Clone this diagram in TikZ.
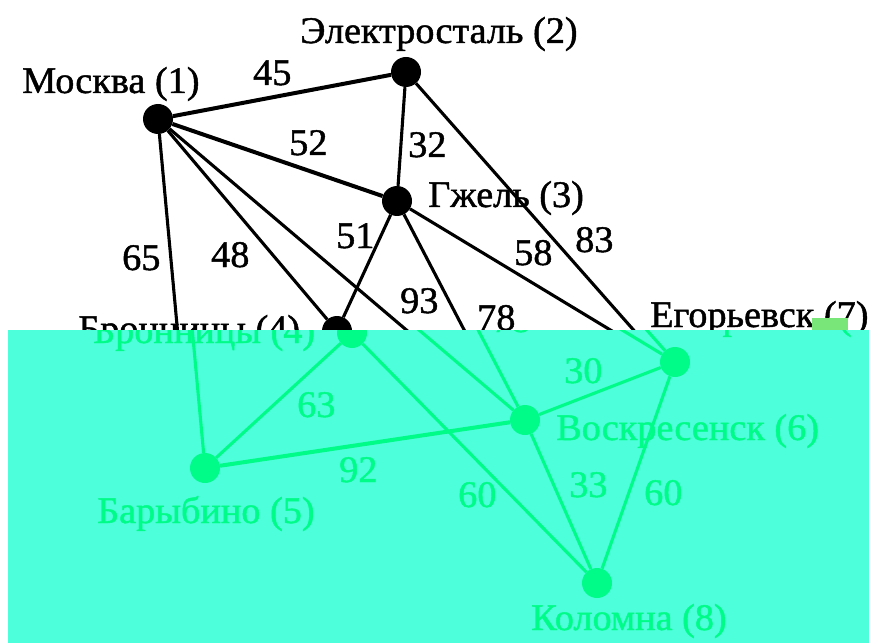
\documentclass[tikz,border=0pt]{standalone}
\usepackage{fontspec}
\setmainfont{Liberation Serif}[FakeBold=1.2]
\definecolor{ovcol}{RGB}{78,255,219}
\definecolor{gr}{RGB}{0,252,136}
\definecolor{glitch}{RGB}{120,230,120}
\tikzset{
  dot/.style={circle,fill=#1,inner sep=0pt,minimum size=30pt},
  edge/.style={draw=#1,line width=3.1pt},
  thickedge/.style={draw=#1,line width=4pt},
  lbl/.style={inner sep=0pt,anchor=base west,text=#1,font=\fontsize{37.5}{42}\selectfont},
}
\newcommand\sx[1]{\scalebox{1.02}[1]{#1}}
\newcommand\graphlayer[1]{%
  \node[dot=#1] (n1) at (158,-119) {};
  \node[dot=#1] (n2) at (406,-72) {};
  \node[dot=#1] (n3) at (397,-201) {};
  \node[dot=#1] (n4) at (337,-331) {};
  \node[dot=#1] (n5) at (190,-466) {};
  \node[dot=#1] (n6) at (510,-418) {};
  \node[dot=#1] (n7) at (660,-360) {};
  \node[dot=#1] (n8) at (582,-581) {};
  \draw[thickedge=#1] (n1) -- (n2);
  \draw[thickedge=#1] (n1) -- (n3);
  \draw[edge=#1] (n2) -- (n3);
  \draw[edge=#1] (n2) -- (n7);
  \draw[edge=#1] (n3) -- (n7);
  \draw[edge=#1] (n1) -- (n4);
  \draw[edge=#1] (n1) -- (n5);
  \draw[edge=#1] (n1) -- (n6);
  \draw[edge=#1] (n3) -- (n4);
  \draw[edge=#1] (n3) -- (n6);
  \draw[edge=#1] (n4) -- (n5);
  \draw[edge=#1] (n4) -- (n8);
  \draw[thickedge=#1] (n5) -- (n6);
  \draw[edge=#1] (n6) -- (n7);
  \draw[edge=#1] (n6) -- (n8);
  \draw[edge=#1] (n7) -- (n8);
  \node[lbl=#1] (t1) at (22,-93) {\sx{Москва (1)}};
  \node[lbl=#1] (t2) at (300,-43) {\sx{Электросталь (2)}};
  \node[lbl=#1] (t3) at (428,-207) {\sx{Гжель (3)}};
  \node[lbl=#1] (t4) at (78,-341) {\sx{Бронницы (4)}};
  \node[lbl=#1] (t5) at (82,-521) {\sx{Барыбино (5)}};
  \node[lbl=#1] (t6) at (541,-438) {\sx{Воскресенск (6)}};
  \node[lbl=#1] (t7) at (650,-327) {\sx{Егорьевск (7)}};
  \node[lbl=#1] (t8) at (516,-628) {\sx{Коломна (8)}};
  \node[lbl=#1] (w12) at (253,-85) {\sx{45}};
  \node[lbl=#1] (w13) at (289,-155) {\sx{52}};
  \node[lbl=#1] (w23) at (408,-157) {\sx{32}};
  \node[lbl=#1] (w34) at (336,-248) {\sx{51}};
  \node[lbl=#1] (w15) at (122,-270) {\sx{65}};
  \node[lbl=#1] (w14) at (211,-267) {\sx{48}};
  \node[lbl=#1] (w37) at (514,-265) {\sx{58}};
  \node[lbl=#1] (w27) at (575,-252) {\sx{83}};
  \node[lbl=#1] (w16) at (400,-313) {\sx{93}};
  \node[lbl=#1] (w36) at (477,-330) {\sx{78}};
  \node[lbl=#1] (w45) at (282,-415) {\sx{63}};
  \node[lbl=#1] (w67) at (549,-381) {\sx{30}};
  \node[lbl=#1] (w56) at (324,-480) {\sx{92}};
  \node[lbl=#1] (w48) at (443,-505) {\sx{60}};
  \node[lbl=#1] (w68) at (554,-495) {\sx{33}};
  \node[lbl=#1] (w78) at (629,-503) {\sx{60}};
}
\begin{document}
\begin{tikzpicture}[x=1pt,y=1pt]
  \useasboundingbox (0,0) rectangle (869,-644);
  \fill[white] (0,0) rectangle (869,-644);
  \graphlayer{black}
  \fill[glitch] (812,-318) rectangle (848,-330);
  \fill[ovcol] (8,-330) rectangle (869,-643);
  \begin{scope}
    \clip (8,-330) rectangle (869,-643);
    \begin{scope}[shift={(15,-2)},name prefix=g-]
      \graphlayer{gr}
    \end{scope}
  \end{scope}
\end{tikzpicture}
\end{document}
